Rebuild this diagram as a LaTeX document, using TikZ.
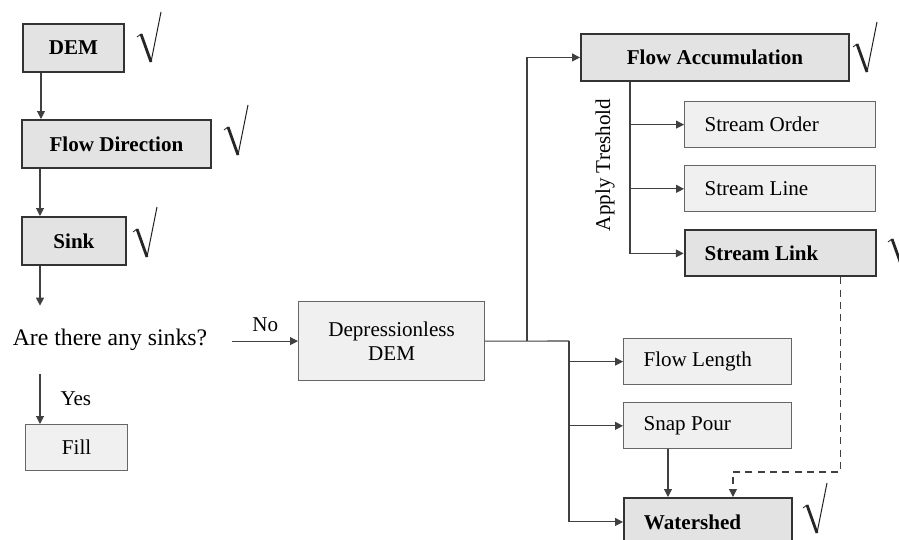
\documentclass[tikz,border=0pt]{standalone}
\usepackage{fontspec}
\setmainfont{Liberation Serif}
\usetikzlibrary{arrows.meta,positioning}
\tikzset{
  mainbox/.style={draw=black!80,line width=1.1pt,fill=gray!22,anchor=north west,
    minimum height=0.96cm,inner sep=0pt,font=\fontsize{12}{14}\selectfont\bfseries},
  subbox/.style={draw=black!60,line width=0.7pt,fill=gray!12,anchor=north west,
    minimum height=0.92cm,inner sep=0pt},
  lbox/.style={align=flush left,text width=#1,inner xsep=0.4cm},
  conn/.style={draw=black!75,line width=0.6pt},
  tick/.pic={
    \draw[black!85,line width=0.5pt] (-14,-25) -- (-10,-28);
    \draw[black!85,line width=1.6pt] (-10,-28) -- (0,0);
    \draw[black!85,line width=0.6pt] (0,0) -- (10,-50);
  }
}
\begin{document}
\begin{tikzpicture}[x=0.02cm,y=-0.02cm,font=\fontsize{12}{14}\selectfont,
    >={Triangle[length=4.5pt,width=4.5pt]}]
    \path[use as bounding box,fill=white] (0,0) rectangle (899,540);
    \node[mainbox,minimum width=2.02cm] (dem) at (22,23) {DEM};
    \node[mainbox,minimum width=3.78cm] (fd) at (21,119) {Flow Direction};
    \node[mainbox,minimum width=2.08cm] (sink) at (21,216) {Sink};
    \node[font=\fontsize{13.5}{16}\selectfont,minimum height=1.36cm,inner xsep=0.5cm] (q) at (110,340) {Are there any sinks?};
    \node[subbox,minimum width=2.04cm] (fill) at (25,424) {Fill};
    \node[subbox,minimum width=3.72cm,minimum height=1.58cm,align=center] (dd) at (298,301) {Depressionless\\DEM};
    \node[mainbox,minimum width=5.36cm,minimum height=0.94cm] (fa) at (580,33) {Flow Accumulation};
    \node[subbox,lbox=3.02cm] (so) at (684,101) {Stream Order};
    \node[subbox,lbox=3.02cm] (sl) [below=0.34cm of so] {Stream Line};
    \node[mainbox,lbox=3.02cm,minimum height=0.92cm] (slk) [below=0.34cm of sl] {Stream Link};
    \node[subbox,lbox=2.56cm] (fl) at (623,338) {Flow Length};
    \node[subbox,lbox=2.56cm] (sp) [below=0.34cm of fl] {Snap Pour};
    \node[mainbox,lbox=2.56cm] (ws) at (623,497) {Watershed};
    \node[rotate=90] (thrlbl) at (605,165) {Apply Treshold};
    \coordinate (j1) at (527,341);
    \coordinate (j2) at (569,341);
    \coordinate (thr) at ([xshift=1cm]fa.south west);
    \draw[conn,->] ([xshift=.38cm]dem.south west) -- ([xshift=.38cm]dem.south west |- fd.north);
    \draw[conn,->] ([xshift=.38cm]fd.south west) -- ([xshift=.38cm]fd.south west |- sink.north);
    \draw[conn,->] ([xshift=.38cm]sink.south west) -- ([xshift=.38cm]sink.south west |- q.north);
    \draw[conn,->] ([xshift=.38cm]sink.south west |- q.south) -- node[right,inner xsep=.4cm] {Yes} ([xshift=.38cm]sink.south west |- fill.north);
    \draw[conn,->] (dd.west -| q.east) -- node[above,yshift=2pt] {No} (dd.west);
    \draw[conn] (dd.east) -- (j2);
    \draw[conn,->] (j1) |- (fa.west);
    \draw[conn,->] (j2) |- (fl.west);
    \draw[conn,->] (j2) |- (sp.west);
    \draw[conn,->] (j2) |- (ws.west);
    \draw[conn,->] (thr) |- (so.west);
    \draw[conn,->] (thr) |- (sl.west);
    \draw[conn,->] (thr) |- (slk.west);
    \draw[conn,->] ([xshift=.9cm]sp.south west) -- ([xshift=.9cm]sp.south west |- ws.north);
    \draw[conn,->,dash pattern=on 4pt off 3pt] ([xshift=-.72cm]slk.south east) |- ([xshift=2.2cm,yshift=.5cm]ws.north west) -- ([xshift=2.2cm]ws.north west);
    \pic at (151,62) {tick};
    \pic at (238,155) {tick};
    \pic at (147,257) {tick};
    \pic at (867,72) {tick};
    \pic at (902,267) {tick};
    \pic at (817,533) {tick};
\end{tikzpicture}
\end{document}
